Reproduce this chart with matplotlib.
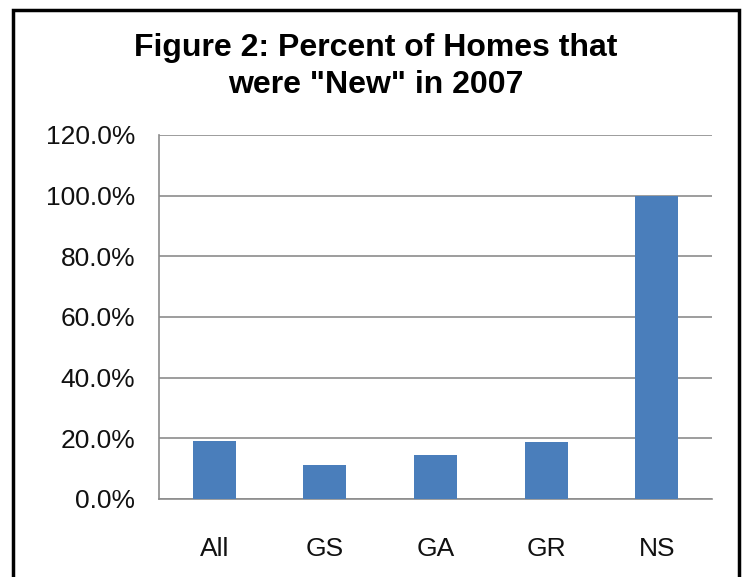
import matplotlib.pyplot as plt
from matplotlib.patches import Rectangle

# data
categories = ['All', 'GS', 'GA', 'GR', 'NS']
pct_new = [19.1, 11.2, 14.5, 18.7, 100.0]
ytick_vals = [0, 20, 40, 60, 80, 100, 120]
ytick_labels = ['0.0%', '20.0%', '40.0%', '60.0%', '80.0%', '100.0%', '120.0%']

plt.rcParams['font.family'] = ['Liberation Sans', 'DejaVu Sans']

fig = plt.figure(figsize=(7.46, 5.77), dpi=100)
ax = fig.add_axes([159/746, 1 - 499/577, (712 - 159)/746, (499 - 135)/577])

ax.bar(range(len(categories)), pct_new, width=0.39, color='#4a7ebb', zorder=3)
ax.set_xlim(-0.5, len(categories) - 0.5)
ax.set_ylim(0, 120)
ax.set_yticks(ytick_vals)
ax.set_yticklabels(ytick_labels)
ax.set_xticks(range(len(categories)))
ax.set_xticklabels(categories)
ax.tick_params(axis='y', length=0, pad=17, labelsize=19, labelcolor='#111111')
ax.tick_params(axis='x', length=0, pad=27, labelsize=19, labelcolor='#111111')
ax.grid(axis='y', color='#8c8c8c', lw=1.2, zorder=0)
for s in ['top', 'right']:
    ax.spines[s].set_visible(False)
ax.spines['left'].set_color('#8c8c8c')
ax.spines['bottom'].set_color('#8c8c8c')
ax.spines['left'].set_linewidth(1.2)
ax.spines['bottom'].set_linewidth(1.2)

fig.text(376/746, 1 - 48/577, 'Figure 2: Percent of Homes that', ha='center', va='center',
         fontsize=23, fontweight='bold')
fig.text(376/746, 1 - 85/577, 'were "New" in 2007', ha='center', va='center',
         fontsize=23, fontweight='bold')

# outer frame
fig.patches.append(Rectangle((13/746, -0.02), (739 - 13)/746, 1 - 10/577 + 0.02,
                             transform=fig.transFigure, fill=False, ec='black', lw=2.5))

fig.savefig('out.png', dpi=100)
